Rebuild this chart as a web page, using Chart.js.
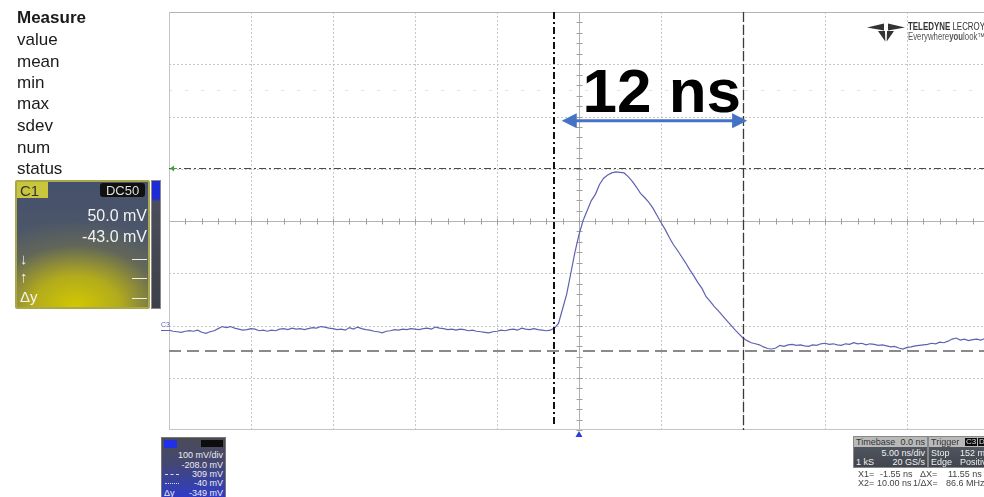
<!DOCTYPE html>
<html>
<head>
<meta charset="utf-8">
<script src="https://cdn.jsdelivr.net/npm/chart.js@4.4.1/dist/chart.umd.min.js"></script>
<style>
  html, body { margin:0; padding:0; background:#fff; overflow:hidden; width:984px; height:497px; }
  body { position:relative; font-family:"Liberation Sans", Arial, sans-serif; }
  #wrap { position:absolute; left:0; top:0; width:1000px; height:497px; }
  .abs { position:absolute; white-space:pre; line-height:1; }
  .meas { font-size:17px; color:#1a1a1a; left:17px; }
  .c1 { position:absolute; left:15px; top:180px; width:131px; height:125px; border:2px solid #a9a84a; border-radius:2px;
        background: radial-gradient(ellipse 95% 70% at 45% 100%, #d2c800 0%, #b3ac1c 35%, rgba(110,112,80,0.6) 70%, rgba(70,80,105,0) 100%),
                    linear-gradient(180deg, #45506c 0%, #4d5769 45%, #5c6060 100%); }
  .c1 .t { position:absolute; color:#f2f2f2; font-size:16px; line-height:1; white-space:pre; }
  .sliver { position:absolute; left:151px; top:180px; width:8px; height:127px; border:1px solid #888;
            background: linear-gradient(180deg, #1e2ad6 0%, #1e2ad6 14%, #4a4e5c 16%, #3d4048 100%); }
  .c3p { position:absolute; left:161px; top:437px; width:63px; height:62px; border:1px solid #777;
         background: linear-gradient(180deg, #4b4c57 0%, #444770 40%, #3440b0 80%, #2c38d0 100%); }
  .c3p .t { position:absolute; right:2px; color:#ececec; font-size:9px; line-height:1; white-space:pre; }
  .tb { position:absolute; top:436px; height:30px; border:1px solid #888; background:linear-gradient(180deg,#5a5e68,#40444d); }
  .tb .hd { position:absolute; left:0; right:0; top:0; height:10px; background:#b9b9b9; }
  .tb .t { position:absolute; font-size:9px; line-height:1; white-space:pre; color:#f0f0f0; }
  .tb .hd .t { color:#333; top:1px; }
  .cur { position:absolute; font-size:9px; line-height:1; color:#444; white-space:pre; }
</style>
</head>
<body>
<div id="wrap"><canvas id="scope" width="1000" height="497"></canvas></div>

<!-- measurement table -->
<div class="abs meas" style="top:9px;font-weight:bold;">Measure</div>
<div class="abs meas" style="top:31px;">value</div>
<div class="abs meas" style="top:53px;">mean</div>
<div class="abs meas" style="top:74px;">min</div>
<div class="abs meas" style="top:95px;">max</div>
<div class="abs meas" style="top:117px;">sdev</div>
<div class="abs meas" style="top:139px;">num</div>
<div class="abs meas" style="top:160px;">status</div>

<!-- C1 channel descriptor -->
<div class="c1">
  <div class="t" style="left:0;top:0;width:31px;height:16px;background:#c9c53c;color:#333;font-size:15px;padding:1px 0 0 3px;box-sizing:border-box;">C1</div>
  <div class="t" style="left:83px;top:1px;width:45px;height:14px;background:#111;color:#ddd;font-size:13px;border-radius:3px;text-align:center;padding-top:1px;box-sizing:border-box;">DC50</div>
  <div class="t" style="right:1px;top:26px;">50.0 mV</div>
  <div class="t" style="right:1px;top:47px;">-43.0 mV</div>
  <div class="t" style="left:3px;top:69px;font-size:15px;">↓</div>
  <div class="t" style="left:3px;top:87px;font-size:15px;">↑</div>
  <div class="t" style="left:3px;top:107px;font-size:15px;">Δy</div>
  <div style="position:absolute;right:1px;top:77px;width:15px;height:1px;background:#eee;"></div>
  <div style="position:absolute;right:1px;top:96px;width:15px;height:1px;background:#eee;"></div>
  <div style="position:absolute;right:1px;top:116px;width:15px;height:1px;background:#eee;"></div>
</div>
<div class="sliver"></div>

<!-- C3 channel descriptor -->
<div class="c3p">
  <div style="position:absolute;left:2px;top:2px;width:13px;height:8px;background:#1f30e6;"></div>
  <div style="position:absolute;left:39px;top:2px;width:22px;height:7px;background:#0d0d0d;"></div>
  <div class="t" style="top:13px;">100 mV/div</div>
  <div class="t" style="top:23px;">-208.0 mV</div>
  <div class="t" style="top:32px;">309 mV</div>
  <div class="t" style="top:41px;">-40 mV</div>
  <div class="t" style="top:51px;left:2px;right:auto;">Δy</div>
  <div class="t" style="top:51px;">-349 mV</div>
  <div style="position:absolute;left:3px;top:36px;width:14px;height:0;border-top:1px dashed #ddd;"></div>
  <div style="position:absolute;left:3px;top:45px;width:14px;height:0;border-top:1px dotted #ddd;"></div>
</div>

<!-- timebase / trigger -->
<div class="tb" style="left:853px;width:73px;">
  <div class="hd"><div class="t" style="left:2px;">Timebase</div><div class="t" style="right:2px;">0.0 ns</div></div>
  <div class="t" style="right:2px;top:12px;">5.00 ns/div</div>
  <div class="t" style="left:2px;top:21px;">1 kS</div>
  <div class="t" style="right:2px;top:21px;">20 GS/s</div>
</div>
<div class="tb" style="left:928px;width:70px;">
  <div class="hd"><div class="t" style="left:2px;">Trigger</div>
    <div class="t" style="left:36px;top:1px;background:#0d0d0d;color:#ddd;font-size:8px;padding:0 1px;">C3</div>
    <div class="t" style="left:49px;top:1px;background:#0d0d0d;color:#ddd;font-size:8px;padding:0 1px;">DC</div></div>
  <div class="t" style="left:2px;top:12px;">Stop</div>
  <div class="t" style="left:31px;top:12px;">152 mV</div>
  <div class="t" style="left:2px;top:21px;">Edge</div>
  <div class="t" style="left:31px;top:21px;">Positive</div>
</div>
<div class="cur" style="left:858px;top:470px;">X1=</div>
<div class="cur" style="left:880px;top:470px;">-1.55 ns</div>
<div class="cur" style="left:920px;top:470px;">ΔX=</div>
<div class="cur" style="left:948px;top:470px;">11.55 ns</div>
<div class="cur" style="left:858px;top:479px;">X2=</div>
<div class="cur" style="left:877px;top:479px;">10.00 ns</div>
<div class="cur" style="left:913px;top:479px;">1/ΔX=</div>
<div class="cur" style="left:946px;top:479px;">86.6 MHz</div>

<!-- brand mark -->
<svg style="position:absolute;left:860px;top:18px;" width="50" height="28" viewBox="860 18 50 28">
  <polygon points="867,27.5 884,23.5 884,30.5" fill="#333"/>
  <polygon points="905,27.5 888,23.5 888,30.5" fill="#333"/>
  <polygon points="878,31 885,31 885.3,41.5" fill="#333"/>
  <polygon points="894,31 887,31 886.7,41.5" fill="#333"/>
</svg>
<div class="abs" style="left:908px;top:21px;font-size:11px;color:#333;transform:scaleX(0.72);transform-origin:0 0;"><b>TELEDYNE</b> LECROY</div>
<div class="abs" style="left:908px;top:32px;font-size:10px;color:#555;transform:scaleX(0.78);transform-origin:0 0;">Everywhere<b>you</b>look™</div>

<script>
// Acquisition settings
const timebaseNsPerDiv = 5;
const timeCenterNs = 0;
const horizontalDivs = 10;
const mvPerDiv = 100;
const offsetMv = -208;
const verticalDivs = 8;

// C3 record, one value every 0.25 ns starting at -25 ns (mV)
const sampleStartNs = -25;
const sampleStepNs = 0.25;
const c3Mv = [
  -1, -3, -4, -5, -3, -2, -3, -1, -5, -7,        // -25.0 ns
  -4, -2, 2, 6, 4, 6, 3, 1, -1, 0,               // -22.5 ns
  2, 1, -2, -1, -3, -1, -2, 1, 2, 0,             // -20.0 ns
  3, 1, 2, 0, 2, 4, 3, 6, 5, 3,                  // -17.5 ns
  2, 0, 1, -1, 4, 1, 5, 2, 0, -1,                // -15.0 ns
  -3, -4, -6, -3, -2, 0, -1, 1, 0, 2,            // -12.5 ns
  1, 0, 2, 3, 1, 5, 3, 2, 0, 1,                  // -10.0 ns
  -1, 1, 0, -2, -1, -3, -4, -5, -6, -4,          // -7.5 ns
  -3, -1, -2, 0, 1, -1, 3, 1, 0, 2,              // -5.0 ns
  0, -1, -2, -1, 3, 12, 40, 68, 108, 148,        // -2.5 ns
  182, 209, 228, 247, 259, 278, 290, 296, 300, 302, // 0 ns
  301, 300, 293, 284, 273, 261, 253, 244, 233, 219, // 2.5 ns
  205, 192, 177, 163, 152, 140, 128, 115, 103, 90,  // 5.0 ns
  79, 63, 54, 44, 36, 27, 18, 9, 0, -8,          // 7.5 ns
  -16, -21, -25, -27, -29, -33, -36, -37, -35, -30, // 10.0 ns
  -32, -29, -28, -30, -29, -31, -32, -29, -30, -27, // 12.5 ns
  -26, -28, -27, -29, -30, -27, -28, -25, -27, -26, // 15.0 ns
  -29, -27, -28, -30, -29, -31, -33, -32, -35, -37, // 17.5 ns
  -34, -33, -31, -30, -29, -28, -26, -27, -24, -25, // 20.0 ns
  -22, -18, -16, -20, -18, -21, -19, -18, -20, -17, // 22.5 ns
  -19                                             // 25.0 ns
];

// Cursors
const cursorX1Ns = -1.55;
const cursorX2Ns = 10.00;
const cursorY1Mv = 309;
const cursorY2Mv = -40;

// Width annotation
const spanText = '12 ns';
const spanArrowFromNs = -1.05;
const spanArrowToNs = 10.25;
const spanArrowMv = 400;
const spanTextNs = 5.05;
const spanTextMv = 417;

const xMin = timeCenterNs - timebaseNsPerDiv * horizontalDivs / 2;
const xMax = timeCenterNs + timebaseNsPerDiv * horizontalDivs / 2;
const yCenter = -offsetMv;
const yMin = yCenter - mvPerDiv * verticalDivs / 2;
const yMax = yCenter + mvPerDiv * verticalDivs / 2;

const tracePoints = c3Mv.map((v, i) => ({ x: sampleStartNs + i * sampleStepNs, y: v }));

function hLine(ctx, y, x0, x1) { ctx.beginPath(); ctx.moveTo(x0, y); ctx.lineTo(x1, y); ctx.stroke(); }
function vLine(ctx, x, y0, y1) { ctx.beginPath(); ctx.moveTo(x, y0); ctx.lineTo(x, y1); ctx.stroke(); }

const scopeGrid = {
  id: 'scopeGrid',
  beforeDatasetsDraw(chart) {
    const { ctx, chartArea: a, scales: { x, y } } = chart;
    ctx.save();
    ctx.lineWidth = 1;
    // dotted division lines
    ctx.strokeStyle = '#c6c6c6';
    ctx.setLineDash([2, 2]);
    for (let k = 1; k < horizontalDivs; k++) {
      if (k === horizontalDivs / 2) continue;
      const px = Math.round(x.getPixelForValue(xMin + k * timebaseNsPerDiv)) + 0.5;
      vLine(ctx, px, a.top, a.bottom);
    }
    for (let k = 1; k < verticalDivs; k++) {
      if (k === verticalDivs / 2) continue;
      const py = Math.round(y.getPixelForValue(yMin + k * mvPerDiv)) + 0.5;
      hLine(ctx, py, a.left, a.right);
    }
    // faint ghost row
    ctx.strokeStyle = '#e2e2e2';
    ctx.setLineDash([3, 13]);
    hLine(ctx, Math.round(y.getPixelForValue(yMax - 1.5 * mvPerDiv)) + 0.5, a.left, a.right);
    // centre axes with minor ticks
    ctx.setLineDash([]);
    ctx.strokeStyle = '#b2b2b2';
    const cx = Math.round(x.getPixelForValue(timeCenterNs)) + 0.5;
    const cy = Math.round(y.getPixelForValue(yCenter)) + 0.5;
    vLine(ctx, cx, a.top, a.bottom);
    hLine(ctx, cy, a.left, a.right);
    ctx.strokeStyle = '#a0a0a0';
    for (let t = xMin; t <= xMax; t += timebaseNsPerDiv / 5) {
      const px = Math.round(x.getPixelForValue(t)) + 0.5;
      vLine(ctx, px, cy - 3, cy + 3);
    }
    for (let v = yMin; v <= yMax; v += mvPerDiv / 5) {
      const py = Math.round(y.getPixelForValue(v)) + 0.5;
      hLine(ctx, py, cx - 3, cx + 3);
    }
    // frame
    ctx.strokeStyle = '#b4b4b4';
    hLine(ctx, a.top + 0.5, a.left, a.right);
    ctx.strokeStyle = '#c4c4c4';
    vLine(ctx, a.left + 0.5, a.top, a.bottom);
    hLine(ctx, a.bottom - 0.5, a.left, a.right);
    ctx.restore();
  }
};

const scopeCursors = {
  id: 'scopeCursors',
  afterDatasetsDraw(chart) {
    const { ctx, chartArea: a, scales: { x, y } } = chart;
    ctx.save();
    // horizontal cursors
    ctx.strokeStyle = '#4a4a4a'; ctx.lineWidth = 1.2; ctx.setLineDash([7, 3, 2, 3]);
    hLine(ctx, Math.round(y.getPixelForValue(cursorY1Mv)) + 0.5, a.left, a.right);
    ctx.strokeStyle = '#8a8a8a'; ctx.lineWidth = 2; ctx.setLineDash([12, 6]);
    hLine(ctx, Math.round(y.getPixelForValue(cursorY2Mv)), a.left, a.right);
    // vertical cursors
    ctx.strokeStyle = '#111'; ctx.lineWidth = 2; ctx.setLineDash([7, 3, 2, 3]);
    vLine(ctx, Math.round(x.getPixelForValue(cursorX1Ns)), a.top, a.bottom - 3);
    ctx.strokeStyle = '#3a3a3a'; ctx.lineWidth = 1.3; ctx.setLineDash([10, 3]);
    vLine(ctx, Math.round(x.getPixelForValue(cursorX2Ns)) + 0.5, a.top, a.bottom);
    ctx.setLineDash([]);
    // cursor marker at the left edge
    const gy = Math.round(y.getPixelForValue(cursorY1Mv)) + 0.5;
    ctx.fillStyle = '#3aa83a'; ctx.strokeStyle = '#3aa83a'; ctx.lineWidth = 1;
    ctx.beginPath(); ctx.moveTo(a.left + 1, gy); ctx.lineTo(a.left + 5, gy - 3); ctx.lineTo(a.left + 5, gy + 3); ctx.closePath(); ctx.fill();
    hLine(ctx, gy, a.left + 4, a.left + 8);
    // channel marker
    const zy = Math.round(y.getPixelForValue(0));
    ctx.fillStyle = '#5f62b0'; ctx.strokeStyle = '#5f62b0';
    ctx.font = '7px "Liberation Sans", Arial, sans-serif';
    ctx.textBaseline = 'bottom'; ctx.textAlign = 'left';
    ctx.fillText('C3', a.left - 8, zy - 1);
    hLine(ctx, zy + 0.5, a.left - 8, a.left);
    // trigger marker
    const tx = x.getPixelForValue(timeCenterNs);
    ctx.fillStyle = '#2b3fd6';
    ctx.beginPath(); ctx.moveTo(tx, a.bottom + 1); ctx.lineTo(tx - 3.5, a.bottom + 7); ctx.lineTo(tx + 3.5, a.bottom + 7); ctx.closePath(); ctx.fill();
    ctx.restore();
  }
};

const spanAnnotation = {
  id: 'spanAnnotation',
  afterDraw(chart) {
    const { ctx, scales: { x, y } } = chart;
    const x0 = x.getPixelForValue(spanArrowFromNs);
    const x1 = x.getPixelForValue(spanArrowToNs);
    const ay = y.getPixelForValue(spanArrowMv);
    ctx.save();
    ctx.strokeStyle = '#4472c4'; ctx.fillStyle = '#4472c4'; ctx.lineWidth = 3;
    hLine(ctx, ay, x0 + 10, x1 - 10);
    const head = 15, half = 7.5;
    ctx.beginPath(); ctx.moveTo(x0, ay); ctx.lineTo(x0 + head, ay - half); ctx.lineTo(x0 + head, ay + half); ctx.closePath(); ctx.fill();
    ctx.beginPath(); ctx.moveTo(x1, ay); ctx.lineTo(x1 - head, ay - half); ctx.lineTo(x1 - head, ay + half); ctx.closePath(); ctx.fill();
    ctx.fillStyle = '#000';
    ctx.font = 'bold 62px "Liberation Sans", Arial, sans-serif';
    ctx.textAlign = 'center'; ctx.textBaseline = 'alphabetic';
    ctx.fillText(spanText, x.getPixelForValue(spanTextNs), y.getPixelForValue(spanTextMv));
    ctx.restore();
  }
};

new Chart(document.getElementById('scope'), {
  type: 'line',
  data: {
    datasets: [{
      label: 'C3',
      data: tracePoints,
      borderColor: '#5f62b0',
      borderWidth: 1.2,
      pointRadius: 0,
      tension: 0,
      fill: false
    }]
  },
  options: {
    responsive: false,
    animation: false,
    devicePixelRatio: 1,
    layout: { padding: { left: 169, top: 12, right: 11, bottom: 67 } },
    scales: {
      x: { type: 'linear', display: false, min: xMin, max: xMax },
      y: { type: 'linear', display: false, min: yMin, max: yMax }
    },
    plugins: { legend: { display: false }, tooltip: { enabled: false } }
  },
  plugins: [scopeGrid, scopeCursors, spanAnnotation]
});
</script>
</body>
</html>
